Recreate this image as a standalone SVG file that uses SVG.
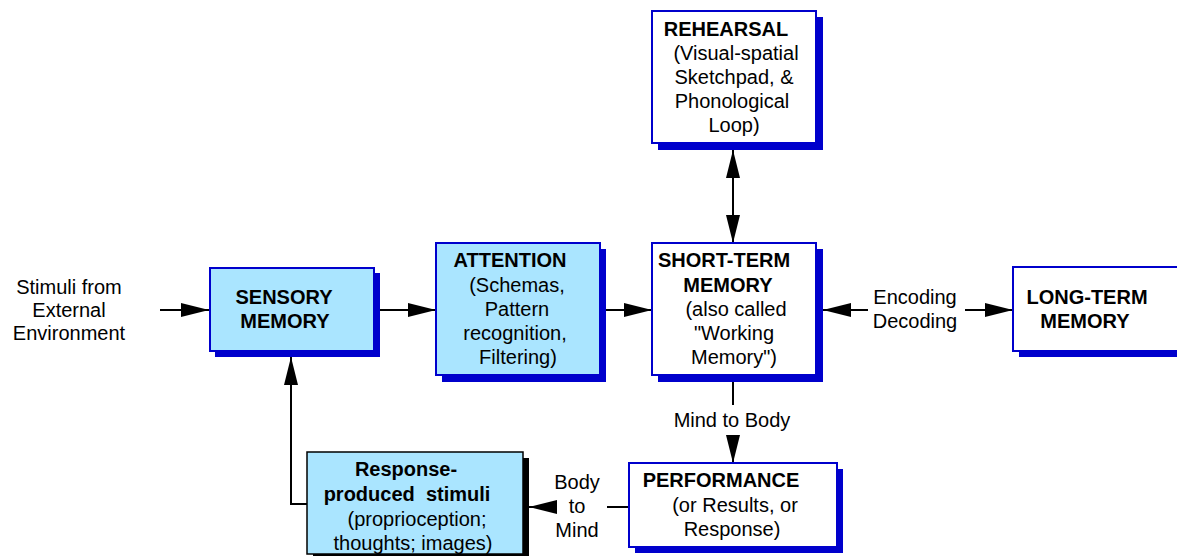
<svg xmlns="http://www.w3.org/2000/svg" width="1177" height="556" viewBox="0 0 1177 556">
<style>
text{font-family:"Liberation Sans",Arial,sans-serif;font-size:20px;fill:#000}
.b{font-weight:bold}
.m{text-anchor:middle}
.sh{fill:#0000CC}
.shk{fill:#000}
.bx{stroke:#0000CC;stroke-width:2}
.bk{stroke:#000;stroke-width:1.5}
.lb{fill:#AAE5FF}
.wh{fill:#FFFFFF}
.c{stroke:#000;stroke-width:2;fill:none}
</style>
<defs>
<marker id="ah" markerUnits="userSpaceOnUse" markerWidth="28" markerHeight="14" refX="28" refY="7" orient="auto-start-reverse">
<path d="M0,0 L28,7 L0,14 z" fill="#000"/>
</marker>
</defs>
<g id="connectors">
<line class="c" x1="160" y1="310" x2="209" y2="310" marker-end="url(#ah)"/>
<line class="c" x1="380" y1="310" x2="436" y2="310" marker-end="url(#ah)"/>
<line class="c" x1="606" y1="310" x2="652" y2="310" marker-end="url(#ah)"/>
<line class="c" x1="733" y1="150" x2="733" y2="243" marker-start="url(#ah)" marker-end="url(#ah)"/>
<line class="c" x1="868" y1="310" x2="823" y2="310" marker-end="url(#ah)"/>
<line class="c" x1="965" y1="310" x2="1013" y2="310" marker-end="url(#ah)"/>
<line class="c" x1="733" y1="382" x2="733" y2="405"/>
<line class="c" x1="733" y1="435" x2="733" y2="463" marker-end="url(#ah)"/>
<line class="c" x1="629" y1="507" x2="607" y2="507"/>
<line class="c" x1="555" y1="507" x2="529" y2="507" marker-end="url(#ah)"/>
<polyline class="c" points="307,504 291,504 291,357" marker-end="url(#ah)"/>
<text class="m" x="69" y="294">Stimuli from</text>
<text class="m" x="69" y="317">External</text>
<text class="m" x="69" y="340">Environment</text>
<text class="m" x="915" y="304">Encoding</text>
<text class="m" x="915" y="328">Decoding</text>
<text class="m" x="732" y="427">Mind to Body</text>
<text class="m" x="577" y="489">Body</text>
<text class="m" x="577" y="513">to</text>
<text class="m" x="577" y="537">Mind</text>
</g>
<g id="sensory">
<rect class="sh" x="215" y="273" width="165" height="84"/>
<rect class="bx lb" x="210" y="268" width="164" height="83"/>
<text class="b m" x="284" y="304">SENSORY</text>
<text class="b m" x="285" y="328">MEMORY</text>
</g>
<g id="attention">
<rect class="sh" x="442" y="249" width="164" height="133"/>
<rect class="bx lb" x="436" y="243" width="164" height="132"/>
<text class="b m" x="510" y="267">ATTENTION</text>
<text class="m" x="517" y="292">(Schemas,</text>
<text class="m" x="517" y="316">Pattern</text>
<text class="m" x="515" y="340">recognition,</text>
<text class="m" x="518" y="364">Filtering)</text>
</g>
<g id="rehearsal">
<rect class="sh" x="658" y="17" width="165" height="133"/>
<rect class="bx wh" x="652" y="11" width="164" height="132"/>
<text class="b m" x="726" y="36">REHEARSAL</text>
<text class="m" x="736" y="60">(Visual-spatial</text>
<text class="m" x="734" y="84">Sketchpad, &amp;</text>
<text class="m" x="732" y="108">Phonological</text>
<text class="m" x="734" y="132">Loop)</text>
</g>
<g id="stm">
<rect class="sh" x="658" y="249" width="165" height="133"/>
<rect class="bx wh" x="652" y="243" width="164" height="132"/>
<text class="b m" x="724" y="267">SHORT-TERM</text>
<text class="b m" x="728" y="292">MEMORY</text>
<text class="m" x="736" y="316">(also called</text>
<text class="m" x="734" y="340">"Working</text>
<text class="m" x="734" y="364">Memory")</text>
</g>
<g id="ltm">
<rect class="sh" x="1019" y="273" width="170" height="84"/>
<rect class="bx wh" x="1013" y="267" width="170" height="84"/>
<text class="b m" x="1087" y="304">LONG-TERM</text>
<text class="b m" x="1085" y="328">MEMORY</text>
</g>
<g id="performance">
<rect class="sh" x="635" y="469" width="208" height="84"/>
<rect class="bx wh" x="629" y="463" width="208" height="84"/>
<text class="b m" x="721" y="487">PERFORMANCE</text>
<text class="m" x="735" y="512">(or Results, or</text>
<text class="m" x="732" y="536">Response)</text>
</g>
<g id="response">
<rect class="shk" x="313" y="458" width="216" height="102"/>
<rect class="bk lb" x="307" y="452" width="216" height="102"/>
<text class="b m" x="406" y="476">Response-</text>
<text class="b m" x="407" y="501" xml:space="preserve">produced  stimuli</text>
<text class="m" x="417" y="526">(proprioception;</text>
<text class="m" x="413" y="550">thoughts; images)</text>
</g>
</svg>
